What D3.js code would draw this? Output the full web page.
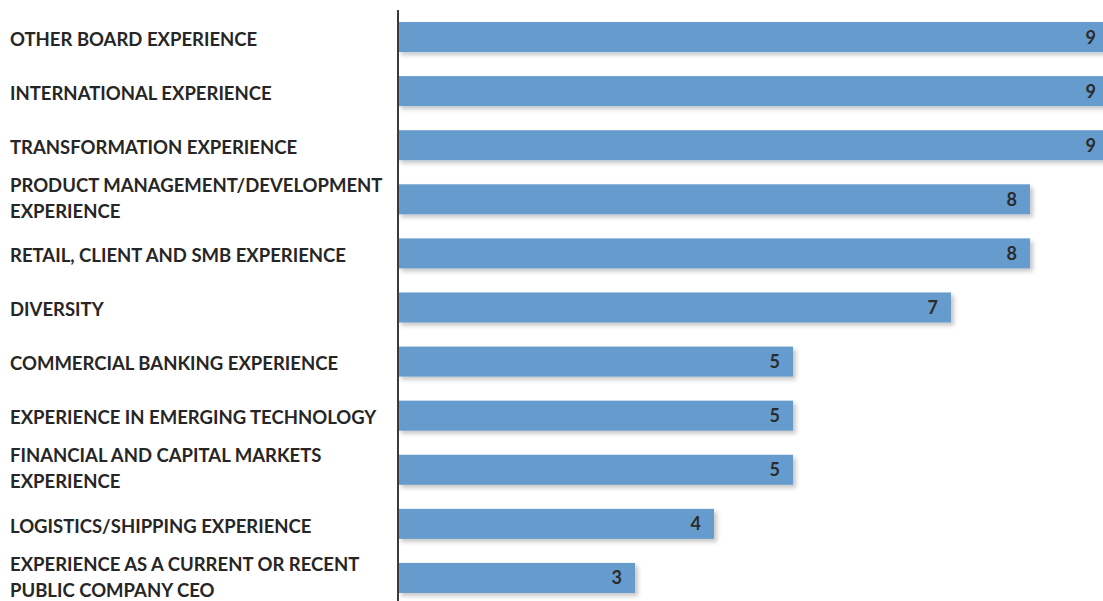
<!DOCTYPE html>
<html>
<head>
<meta charset="utf-8">
<script src="https://cdn.jsdelivr.net/npm/d3@7"></script>
<style>
  body { margin: 0; background: #fff; }
  .label { font-family: Lato, 'Open Sans', sans-serif; font-weight: 700; font-size: 18.5px; fill: #262626; }
  .value { font-family: Lato, 'Open Sans', sans-serif; font-weight: 700; font-size: 18px; fill: #2b2b2b; }
</style>
</head>
<body>
<div id="chart"></div>
<script>
const categories = [
  ['OTHER BOARD EXPERIENCE'],
  ['INTERNATIONAL EXPERIENCE'],
  ['TRANSFORMATION EXPERIENCE'],
  ['PRODUCT MANAGEMENT/DEVELOPMENT', 'EXPERIENCE'],
  ['RETAIL, CLIENT AND SMB EXPERIENCE'],
  ['DIVERSITY'],
  ['COMMERCIAL BANKING EXPERIENCE'],
  ['EXPERIENCE IN EMERGING TECHNOLOGY'],
  ['FINANCIAL AND CAPITAL MARKETS', 'EXPERIENCE'],
  ['LOGISTICS/SHIPPING EXPERIENCE'],
  ['EXPERIENCE AS A CURRENT OR RECENT', 'PUBLIC COMPANY CEO']
];
const values = [9, 9, 9, 8, 8, 7, 5, 5, 5, 4, 3];

const width = 1103, height = 601;
const axisX = 398;

const data = categories.map((c, i) => ({ lines: c, value: values[i], key: i }));

const svg = d3.select('#chart').append('svg')
  .attr('width', width)
  .attr('height', height);

// soft shadow behind bars
const filter = svg.append('defs').append('filter')
  .attr('id', 'shadow')
  .attr('x', '-5%').attr('y', '-30%')
  .attr('width', '115%').attr('height', '170%');
filter.append('feDropShadow')
  .attr('dx', 3).attr('dy', 3)
  .attr('stdDeviation', 2)
  .attr('flood-color', '#000')
  .attr('flood-opacity', 0.22);

const x = d3.scaleLinear()
  .domain([0, 9])
  .range([axisX, 1109]);

const y = d3.scaleBand()
  .domain(data.map(d => d.key))
  .range([10, 605])
  .paddingInner(0.445)
  .paddingOuter(0.2225);

// bars
svg.append('g')
  .attr('class', 'bars')
  .selectAll('rect')
  .data(data)
  .enter().append('rect')
    .attr('x', x(0))
    .attr('y', d => y(d.key))
    .attr('width', d => x(d.value) - x(0))
    .attr('height', y.bandwidth())
    .attr('fill', '#669bcd')
    .attr('filter', 'url(#shadow)');

// value labels
svg.append('g')
  .selectAll('text')
  .data(data)
  .enter().append('text')
    .attr('class', 'value')
    .attr('x', d => x(d.value) - 13)
    .attr('y', d => y(d.key) + y.bandwidth() / 2)
    .attr('dy', '0.36em')
    .attr('text-anchor', 'end')
    .text(d => d.value);

// category labels (two-line ones sit a touch higher)
const labels = svg.append('g')
  .selectAll('text')
  .data(data)
  .enter().append('text')
    .attr('class', 'label')
    .attr('x', 10)
    .attr('y', d => y(d.key) + y.bandwidth() / 2 + (d.lines.length > 1 ? -1 : 2));

labels.selectAll('tspan')
  .data(d => d.lines.map((t, i) => ({ t, i, n: d.lines.length })))
  .enter().append('tspan')
    .attr('x', 10)
    .attr('dy', d => d.i === 0 ? (0.36 - (d.n - 1) * 0.7) + 'em' : '1.4em')
    .text(d => d.t);

// vertical axis line
svg.append('line')
  .attr('x1', axisX).attr('x2', axisX)
  .attr('y1', 10).attr('y2', height)
  .attr('stroke', '#3a3a3a')
  .attr('stroke-width', 2);
</script>
</body>
</html>
